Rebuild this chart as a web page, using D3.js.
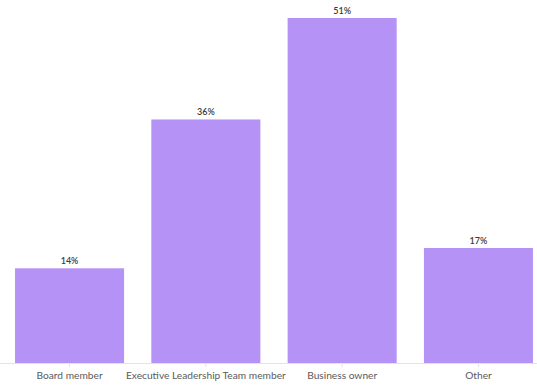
<!DOCTYPE html>
<html>
<head>
<meta charset="utf-8">
<script src="https://cdn.jsdelivr.net/npm/d3@7"></script>
<style>
  html, body { margin: 0; padding: 0; background: #fff; }
  svg { display: block; }
</style>
</head>
<body>
<svg id="chart" width="537" height="385"></svg>
<script>
// Role categories and share of respondents (%)
const categories = ["Board member", "Executive Leadership Team member", "Business owner", "Other"];
const values = [14, 36, 51, 17];
const valueLabels = ["14%", "36%", "51%", "17%"];

const chartWidth = 537;
const baselineY = 363, plotTopY = 18;

const svg = d3.select("#chart");

const x = d3.scaleBand()
  .domain(categories)
  .range([1.4, 546.6])
  .paddingInner(0.2)
  .paddingOuter(0.1);

const y = d3.scaleLinear()
  .domain([0, 51])
  .range([baselineY, plotTopY]);

// Bars
svg.append("g")
  .selectAll("rect")
  .data(categories)
  .join("rect")
  .attr("x", d => x(d))
  .attr("y", (d, i) => y(values[i]))
  .attr("width", x.bandwidth())
  .attr("height", (d, i) => baselineY - y(values[i]))
  .attr("fill", "#b592f5");

// Value labels above bars
svg.append("g")
  .selectAll("text")
  .data(categories)
  .join("text")
  .attr("x", d => x(d) + x.bandwidth() / 2)
  .attr("y", (d, i) => y(values[i]) - 4)
  .attr("text-anchor", "middle")
  .attr("font-family", "Lato, 'Open Sans', sans-serif")
  .attr("font-size", 9)
  .attr("font-weight", 600)
  .attr("fill", "#3a3a3a")
  .text((d, i) => valueLabels[i]);

// Category axis
const axis = svg.append("g")
  .attr("transform", `translate(0,${baselineY})`)
  .call(d3.axisBottom(x).tickSize(4).tickPadding(5).tickSizeOuter(0));

axis.select(".domain").remove();
axis.insert("line", ":first-child")
  .attr("x1", 0).attr("x2", chartWidth)
  .attr("y1", 0.5).attr("y2", 0.5)
  .attr("stroke", "#e3e3e3");
axis.selectAll(".tick line").attr("stroke", "#e3e3e3");
axis.selectAll(".tick text")
  .attr("font-family", "Lato, 'Open Sans', sans-serif")
  .attr("font-size", 10.2)
  .attr("fill", "#5a5a5a");
</script>
</body>
</html>
